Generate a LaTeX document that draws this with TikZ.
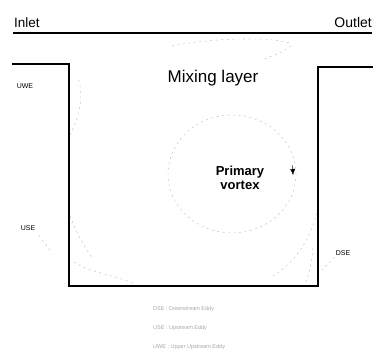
\documentclass[tikz,border=0pt]{standalone}
\usepackage{fontspec}
\setmainfont{Liberation Sans}
\usepackage{tikz}
\usetikzlibrary{arrows.meta}

\begin{document}
\begin{tikzpicture}[x=1pt, y=-1pt,
    wall/.style={line width=2pt, line cap=rect},
    eddy/.style={gray!55, thin, dash pattern=on 2pt off 3.5pt},
    tag/.style={font=\fontsize{7}{8}\selectfont, inner sep=0pt},
    legend/.style={font=\fontsize{5.5}{6}\selectfont, gray!70, anchor=west, inner sep=0pt}]
    \useasboundingbox (0,0) rectangle (377,360);
    % channel above the cavity
    \draw[line width=1.6pt] (13,33) -- (372,33);
    \node[font=\fontsize{13.5}{16}\selectfont, anchor=base west, inner sep=0pt] (inlet) at (14,27) {Inlet};
    \node[font=\fontsize{14}{16}\selectfont, anchor=base east, inner sep=0pt] (outlet) at (372,27) {Outlet};
    % cavity walls
    \draw[wall] (13,64) -- (69,64) -- (69,286) -- (318,286) -- (318,67) -- (372,67);
    \node[font=\fontsize{17}{19}\selectfont] (mixing) at (213,78) {Mixing layer};
    \draw[eddy] (172,46) .. controls (210,38) and (272,36) .. (292,44);
    \draw[eddy] (291,46) .. controls (282,52) .. (262,60);
    % primary vortex
    \draw[eddy] (232,174) ellipse (64pt and 59pt);
    \draw[-{Latex[length=6pt,width=5pt]}] (292.5,165) -- (293,175);
    \node[font=\bfseries\fontsize{13}{14}\selectfont, align=center] (primary) at (240,178) {Primary\\vortex};
    % corner eddies
    \draw[eddy] (70,135) .. controls (80,115) and (84,95) .. (78,78);
    \draw[eddy] (70,216) .. controls (76,232) and (84,246) .. (92,258);
    \draw[eddy] (74,262) .. controls (88,272) and (112,274) .. (135,284);
    \draw[eddy] (317,213) .. controls (308,245) and (292,265) .. (270,278);
    \draw[eddy] (313,248) .. controls (312,262) and (309,274) .. (305,284);
    \node[tag] (uwe) at (25,86) {UWE};
    \node[tag] (use) at (28,228) {USE};
    \node[tag] (dse) at (343,253) {DSE};
    \coordinate (usetip) at (52,253);
    \coordinate (dsetip) at (322,270);
    \draw[eddy, shorten <=6pt] (use.south east) -- (usetip);
    \draw[eddy, shorten <=2pt] (dse.south west) -- (dsetip);
    % legend
    \node[legend] (legdse) at (153,309) {DSE : Downstream Eddy};
    \node[legend] (leguse) at (153,328) {USE : Upstream Eddy};
    \node[legend] (leguwe) at (153,347) {UWE : Upper Upstream Eddy};
\end{tikzpicture}
\end{document}
